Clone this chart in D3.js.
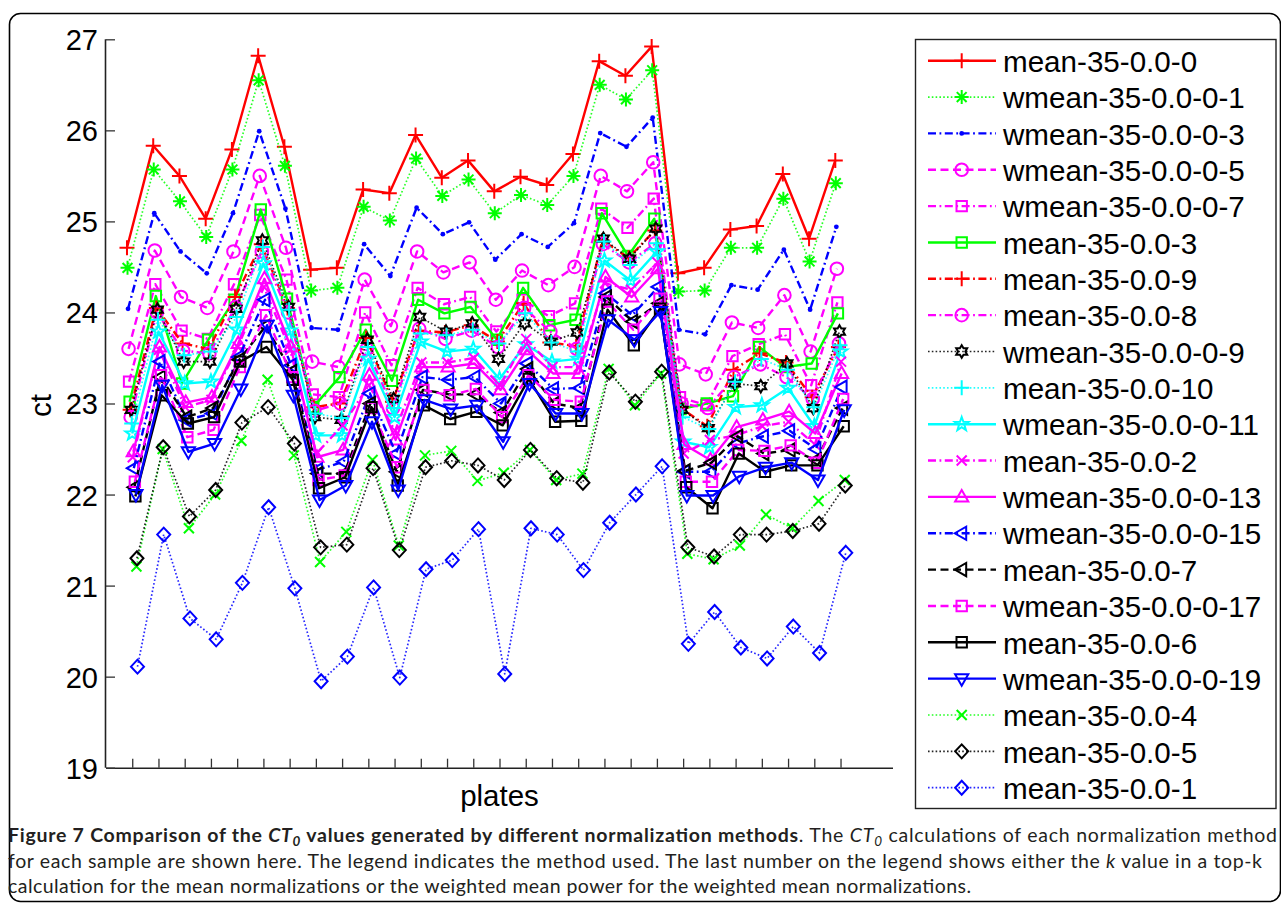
<!DOCTYPE html>
<html>
<head>
<meta charset="utf-8">
<script src="https://cdn.jsdelivr.net/npm/d3@7"></script>
<style>
  html, body { margin: 0; padding: 0; background: #fff; }
  svg { display: block; }
</style>
</head>
<body>
<svg id="chart" width="1281" height="910"></svg>
<script>
// ---- data -------------------------------------------------------------
const plates = d3.range(1, 29);               // 28 plates
const yTickValues = [19, 20, 21, 22, 23, 24, 25, 26, 27];

const seriesNames = [
  "mean-35-0.0-0", "wmean-35-0.0-0-1", "wmean-35-0.0-0-3", "wmean-35-0.0-0-5",
  "wmean-35-0.0-0-7", "mean-35-0.0-3", "mean-35-0.0-9", "mean-35-0.0-8",
  "wmean-35-0.0-0-9", "mean-35-0.0-10", "wmean-35-0.0-0-11", "mean-35-0.0-2",
  "wmean-35-0.0-0-13", "wmean-35-0.0-0-15", "mean-35-0.0-7", "wmean-35-0.0-0-17",
  "mean-35-0.0-6", "wmean-35-0.0-0-19", "mean-35-0.0-4", "mean-35-0.0-5", "mean-35-0.0-1"
];

const mean_0    = [24.71,25.83,25.50,25.03,25.79,26.82,25.82,24.47,24.49,25.35,25.31,25.95,25.48,25.67,25.33,25.49,25.40,25.74,26.76,26.60,26.92,24.43,24.49,24.91,24.95,25.52,24.81,25.67];
const wmean_1   = [24.49,25.57,25.22,24.83,25.57,26.55,25.61,24.24,24.27,25.16,25.01,25.69,25.28,25.46,25.09,25.29,25.18,25.50,26.50,26.34,26.66,24.23,24.24,24.71,24.71,25.25,24.56,25.42];
const wmean_3   = [24.04,25.09,24.67,24.43,25.09,25.99,25.14,23.83,23.81,24.75,24.40,25.15,24.86,24.99,24.58,24.86,24.72,24.98,25.97,25.82,26.14,23.81,23.76,24.30,24.25,24.69,24.03,24.94];
const wmean_5   = [23.60,24.68,24.17,24.05,24.67,25.50,24.71,23.46,23.40,24.36,23.85,24.67,24.44,24.55,24.14,24.46,24.30,24.50,25.50,25.33,25.65,23.43,23.32,23.89,23.83,24.19,23.57,24.48];
const wmean_7   = [23.24,24.31,23.80,23.71,24.31,25.07,24.36,23.10,23.07,24.00,23.42,24.27,24.09,24.17,23.79,24.14,23.96,24.10,25.14,24.93,25.25,23.07,22.98,23.52,23.65,23.76,23.20,24.11];
const mean_3    = [23.02,24.18,23.22,23.70,24.14,25.13,24.15,22.96,23.29,23.81,23.25,24.14,23.99,24.06,23.70,24.27,23.86,23.92,25.09,24.62,25.03,22.94,23.00,23.08,23.62,23.40,23.44,23.99];
const mean_9    = [22.93,24.05,23.66,23.60,24.17,24.75,24.05,22.96,23.00,23.72,23.02,23.80,23.78,23.86,23.68,24.10,23.67,23.63,24.79,24.60,24.90,22.95,22.75,23.37,23.55,23.45,23.07,23.62];
const mean_8    = [22.85,24.00,23.58,23.55,24.06,24.67,24.00,22.92,23.00,23.60,22.95,23.82,23.71,23.80,23.62,24.05,23.79,23.60,24.75,24.55,24.76,23.00,22.95,23.29,23.43,23.29,23.05,23.66];
const wmean_9   = [22.93,24.03,23.46,23.46,24.04,24.79,24.06,22.85,22.82,23.70,23.05,23.95,23.79,23.88,23.49,23.88,23.68,23.78,24.81,24.59,24.92,22.93,22.73,23.22,23.19,23.44,22.95,23.79];
const mean_10   = [22.78,23.92,23.53,23.57,23.95,24.72,24.03,22.89,22.84,23.62,22.95,23.77,23.75,23.81,23.66,23.99,23.67,23.57,24.78,24.52,24.76,22.85,22.72,23.24,23.49,23.37,22.96,23.64];
const wmean_11  = [22.67,23.79,23.22,23.24,23.81,24.54,23.80,22.65,22.65,23.49,22.85,23.68,23.57,23.60,23.27,23.65,23.46,23.49,24.57,24.35,24.67,22.58,22.52,22.96,22.98,23.17,22.75,23.57];
const mean_2    = [22.41,23.59,22.96,23.04,23.62,24.28,23.59,22.45,22.76,23.20,22.70,23.45,23.45,23.50,23.20,23.71,23.40,23.40,24.32,24.25,24.55,22.45,22.60,22.65,22.75,22.80,22.55,23.46];
const wmean_13  = [22.47,23.62,23.01,23.07,23.66,24.37,23.62,22.41,22.49,23.31,22.60,23.40,23.40,23.44,23.15,23.59,23.33,23.33,24.39,24.17,24.48,22.55,22.38,22.74,22.82,22.91,22.67,23.33];
const wmean_15  = [22.29,23.46,22.82,22.89,23.51,24.14,23.42,22.27,22.36,23.11,22.45,23.29,23.26,23.29,23.00,23.44,23.16,23.17,24.21,23.97,24.28,22.25,22.25,22.56,22.64,22.70,22.50,23.18];
const mean_7    = [22.08,23.29,22.85,22.95,23.48,23.85,23.35,22.23,22.23,23.00,22.25,23.15,23.10,23.10,22.90,23.38,23.00,22.95,24.17,23.90,24.10,22.26,22.35,22.64,22.45,22.49,22.38,22.95];
const wmean_17  = [22.14,23.31,22.63,22.71,23.40,23.97,23.29,22.16,22.21,22.95,22.30,23.15,23.09,23.16,22.85,23.31,23.04,23.02,24.12,23.81,24.15,22.14,22.14,22.49,22.48,22.54,22.35,23.05];
const mean_6    = [21.98,23.09,22.78,22.85,23.46,23.62,23.26,22.07,22.19,22.96,22.10,22.98,22.83,22.91,22.76,23.27,22.80,22.81,24.03,23.64,24.04,22.08,21.85,22.45,22.25,22.32,22.32,22.75];
const wmean_19  = [22.00,23.20,22.47,22.56,23.16,23.86,23.09,21.94,22.10,22.80,22.05,23.04,22.94,22.98,22.58,23.22,22.89,22.89,23.92,23.70,24.01,21.99,21.99,22.20,22.30,22.35,22.16,22.93];
const mean_4    = [21.21,22.50,21.63,22.00,22.59,23.26,22.43,21.26,21.59,22.38,21.44,22.43,22.48,22.15,22.24,22.49,22.16,22.23,23.38,22.98,23.33,21.35,21.29,21.44,21.78,21.63,21.93,22.16];
const mean_5    = [21.30,22.52,21.76,22.05,22.79,22.96,22.56,21.42,21.45,22.29,21.39,22.30,22.37,22.32,22.16,22.49,22.18,22.13,23.34,23.02,23.35,21.42,21.32,21.56,21.56,21.60,21.68,22.10];
const mean_1    = [20.11,21.56,20.64,20.41,21.03,21.86,20.97,19.95,20.22,20.98,19.99,21.18,21.28,21.62,20.03,21.63,21.56,21.17,21.69,22.00,22.31,20.36,20.71,20.32,20.20,20.55,20.26,21.36];

const seriesValues = [mean_0, wmean_1, wmean_3, wmean_5, wmean_7, mean_3, mean_9, mean_8,
  wmean_9, mean_10, wmean_11, mean_2, wmean_13, wmean_15, mean_7, wmean_17,
  mean_6, wmean_19, mean_4, mean_5, mean_1];

// line colour, line style and marker of each series
const seriesColors = ["#ff0000","#00ff00","#0000ff","#ff00ff","#ff00ff","#00ff00","#ff0000","#ff00ff",
  "#000000","#00ffff","#00ffff","#ff00ff","#ff00ff","#0000ff","#000000","#ff00ff",
  "#000000","#0000ff","#00ff00","#000000","#0000ff"];
const seriesStyles = ["-",":","-.","--","-.","-","-.","-.",":",":","-","-.","-","-.","--","--","-","-",":",":",":"];
const seriesMarkers = ["+","*",".","o","s","s","+","o","h","+","p","x","^","<","<","s","s","v","x","d","d"];

// ---- layout -----------------------------------------------------------
const svg = d3.select("#chart");
const plotLeft = 106, plotRight = 893, plotTop = 39.3, plotBottom = 767.7;
const x = d3.scaleLinear().domain([0, 30]).range([plotLeft, plotRight]);
const y = d3.scaleLinear().domain([19, 27]).range([plotBottom, plotTop]);
const axisFont = "'Liberation Sans', Arial, Helvetica, sans-serif";

// outer frame
svg.append("rect")
  .attr("x", 9.5).attr("y", 13.5).attr("width", 1271).attr("height", 888)
  .attr("rx", 11).attr("ry", 11)
  .attr("fill", "none").attr("stroke", "#000").attr("stroke-width", 1.6);

const dashFor = {"-": null, ":": "1.6,2.2", "--": "8,4.5", "-.": "8,3.5,1.8,3.5"};
const widthFor = {"-": 2.4, ":": 1.7, "--": 2.4, "-.": 2.4};

function markerPath(type) {
  switch (type) {
    case "+": return `M${-7.5},0H7.5M0,-7.5V7.5`;
    case "x": return `M-5,-5L5,5M-5,5L5,-5`;
    case "*": { const a = 4.9; return `M-7,0H7M0,-7V7M${-a},${-a}L${a},${a}M${-a},${a}L${a},${-a}`; }
    case "o": { const c = 6.3; return `M${c},0A${c},${c} 0 1 1 ${-c},0A${c},${c} 0 1 1 ${c},0Z`; }
    case "s": return `M-5.2,-5.2H5.2V5.2H-5.2Z`;
    case "d": return `M0,-7L6.5,0L0,7L-6.5,0Z`;
    case "^": return `M0,-7L6.6,4.5L-6.6,4.5Z`;
    case "v": return `M0,7L6.6,-4.5L-6.6,-4.5Z`;
    case "<": return `M-7,0L4.5,-6.6L4.5,6.6Z`;
    case "h": return star(6, 6.3, 3.64);
    case "p": return star(5, 7.2, 2.9);
    case ".": return `M2.4,0A2.4,2.4 0 1 1 -2.4,0A2.4,2.4 0 1 1 2.4,0Z`;
  }
  return "";
}
function star(n, ro, ri) {
  const pts = [];
  for (let i = 0; i < 2 * n; i++) {
    const a = -Math.PI / 2 + i * Math.PI / n;
    const rr = i % 2 === 0 ? ro : ri;
    pts.push([rr * Math.cos(a), rr * Math.sin(a)]);
  }
  return "M" + pts.map(p => p[0].toFixed(2) + "," + p[1].toFixed(2)).join("L") + "Z";
}

// ---- axes (ticks point inward) ----------------------------------------
const xAxis = d3.axisBottom(x).tickValues(plates).tickSize(-9).tickFormat("");
const gx = svg.append("g").attr("transform", `translate(0,${plotBottom})`).call(xAxis);
gx.select(".domain").attr("d", `M${plotLeft},0.5H${plotRight}`);

const yAxis = d3.axisLeft(y).tickValues(yTickValues).tickSize(-9).tickPadding(8);
const gy = svg.append("g").attr("transform", `translate(${plotLeft},0)`).call(yAxis);
gy.select(".domain").attr("d", `M-0.5,${plotTop}V${plotBottom}`);
svg.selectAll(".domain").attr("stroke", "#222").attr("stroke-width", 1.6);
svg.selectAll(".tick line").attr("stroke", "#333").attr("stroke-width", 1.3);
gy.selectAll(".tick text")
  .attr("font-family", axisFont).attr("font-size", 29).attr("fill", "#000")
  .attr("x", -8).attr("dy", "0.36em");

svg.append("text")
  .attr("transform", `translate(51,${(plotTop + plotBottom) / 2 + 2}) rotate(-90)`)
  .attr("text-anchor", "middle").attr("font-family", axisFont).attr("font-size", 29.5)
  .text("ct");
svg.append("text")
  .attr("x", (plotLeft + plotRight) / 2).attr("y", 806)
  .attr("text-anchor", "middle").attr("font-family", axisFont).attr("font-size", 29.5)
  .text("plates");

// ---- series -----------------------------------------------------------
const series = seriesNames.map((name, k) => ({
  name, k,
  values: seriesValues[k],
  color: seriesColors[k],
  style: seriesStyles[k],
  marker: seriesMarkers[k],
  shift: (k - 10) * 0.02          // small horizontal stagger per method
}));

const line = d3.line();
const plot = svg.append("g");
series.forEach(s => {
  const pts = s.values.map((v, i) => [x(plates[i] + s.shift), y(v)]);
  const g = plot.append("g");
  g.append("path")
    .attr("d", line(pts))
    .attr("fill", "none")
    .attr("stroke", s.color)
    .attr("stroke-width", widthFor[s.style])
    .attr("stroke-dasharray", dashFor[s.style])
    .attr("stroke-linejoin", "round")
    .attr("opacity", s.style === ":" ? 0.85 : 1);
  g.selectAll("path.mk").data(pts).join("path")
    .attr("class", "mk")
    .attr("transform", d => `translate(${d[0]},${d[1]})`)
    .attr("d", markerPath(s.marker))
    .attr("fill", s.marker === "." ? s.color : "none")
    .attr("stroke", s.color)
    .attr("stroke-width", s.marker === "." ? 0 : 2);
});

// ---- legend -----------------------------------------------------------
const legend = svg.append("g");
legend.append("rect")
  .attr("x", 915.5).attr("y", 39.5).attr("width", 360.5).attr("height", 769)
  .attr("fill", "#fff").attr("stroke", "#222").attr("stroke-width", 1.4);
const rowY = d3.scaleLinear().domain([0, 20]).range([60.7, 787.7]);
series.forEach(s => {
  const cy = rowY(s.k);
  legend.append("line")
    .attr("x1", 928).attr("x2", 996).attr("y1", cy).attr("y2", cy)
    .attr("stroke", s.color)
    .attr("stroke-width", widthFor[s.style])
    .attr("stroke-dasharray", dashFor[s.style])
    .attr("opacity", s.style === ":" ? 0.85 : 1);
  legend.append("path")
    .attr("transform", `translate(961.7,${cy})`)
    .attr("d", markerPath(s.marker))
    .attr("fill", s.marker === "." ? s.color : "none")
    .attr("stroke", s.color)
    .attr("stroke-width", s.marker === "." ? 0 : 2);
  legend.append("text")
    .attr("x", 1003).attr("y", cy + 11.2)
    .attr("font-family", axisFont).attr("font-size", 29.6).attr("fill", "#000")
    .text(s.name);
});

// ---- caption ----------------------------------------------------------
const capFont = "Lato, 'Open Sans', sans-serif";
const capSize = 19.5, subSize = 13.5;
const cap1 = svg.append("text").attr("x", 8).attr("y", 842)
  .attr("font-family", capFont).attr("font-size", capSize).attr("fill", "#231f20")
  .attr("textLength", 1269).attr("lengthAdjust", "spacing");
cap1.append("tspan").attr("font-weight", "bold").text("Figure 7 Comparison of the ");
cap1.append("tspan").attr("font-weight", "bold").attr("font-style", "italic").text("CT");
cap1.append("tspan").attr("font-weight", "bold").attr("font-style", "italic").attr("font-size", subSize).attr("dy", 4).text("0");
cap1.append("tspan").attr("font-weight", "bold").attr("dy", -4).text(" values generated by different normalization methods");
cap1.append("tspan").text(". The ");
cap1.append("tspan").attr("font-style", "italic").text("CT");
cap1.append("tspan").attr("font-style", "italic").attr("font-size", subSize).attr("dy", 4).text("0");
cap1.append("tspan").attr("dy", -4).text(" calculations of each normalization method");

const cap2 = svg.append("text").attr("x", 8).attr("y", 867.5)
  .attr("font-family", capFont).attr("font-size", capSize).attr("fill", "#231f20")
  .attr("textLength", 1254).attr("lengthAdjust", "spacing");
cap2.append("tspan").text("for each sample are shown here. The legend indicates the method used. The last number on the legend shows either the ");
cap2.append("tspan").attr("font-style", "italic").text("k");
cap2.append("tspan").text(" value in a top-k");

svg.append("text").attr("x", 8).attr("y", 893)
  .attr("font-family", capFont).attr("font-size", capSize).attr("fill", "#231f20")
  .attr("textLength", 963).attr("lengthAdjust", "spacing")
  .text("calculation for the mean normalizations or the weighted mean power for the weighted mean normalizations.");
</script>
</body>
</html>
